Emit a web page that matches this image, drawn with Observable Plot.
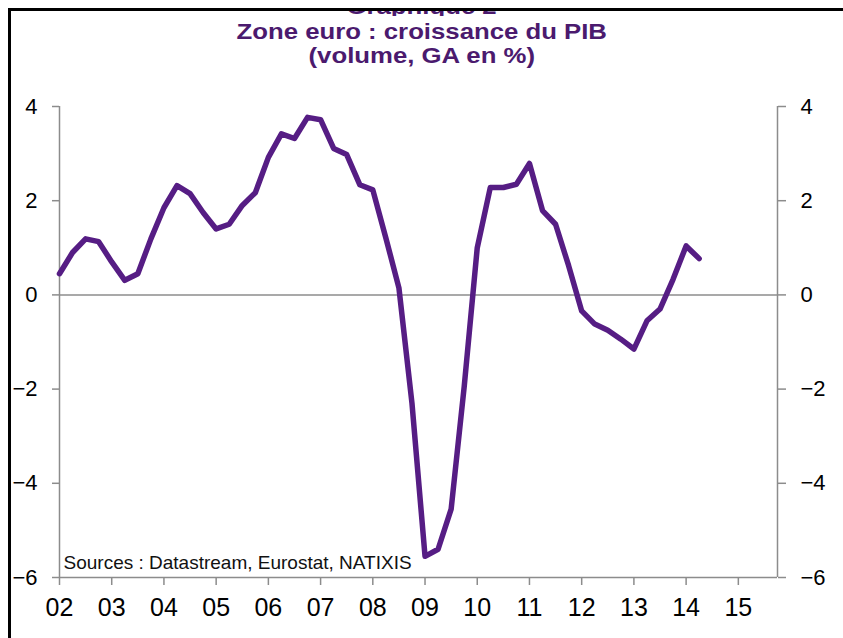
<!DOCTYPE html>
<html>
<head>
<meta charset="utf-8">
<script src="https://cdn.jsdelivr.net/npm/d3@7"></script>
<script src="https://cdn.jsdelivr.net/npm/@observablehq/plot@0.6"></script>
<style>
  html, body { margin: 0; padding: 0; background: #fff; }
  #wrap { position: relative; width: 843px; height: 638px; overflow: hidden; font-family: "Liberation Sans", Arial, sans-serif; }
  #frameTop { position: absolute; left: 8px; top: 8px; width: 835px; height: 3px; background: #000; z-index: 5; }
  #frameLeft { position: absolute; left: 8px; top: 8px; width: 3px; height: 630px; background: #000; z-index: 5; }
  #supclip { position: absolute; left: 0; top: 11px; width: 843px; height: 5px; overflow: hidden; z-index: 2; }
  #sup { position: absolute; left: 0; top: -14.6px; width: 843px; text-align: center; font-weight: bold; font-size: 22px; line-height: 22px; color: #4b1a6e; transform: scaleX(1.17); transform-origin: 421px 0; }
  .title { position: absolute; left: 0; width: 843px; height: 22px; text-align: center; font-weight: bold; font-size: 22px; line-height: 22px; color: #4b1a6e; transform: scaleX(1.17); transform-origin: 420px 0; z-index: 2; white-space: nowrap; }
  #t1 { top: 21px; }
  #t2 { top: 45px; }
  #chart { position: absolute; left: 0; top: 0; z-index: 1; }
</style>
</head>
<body>
<div id="wrap">
  <div id="chart"></div>
  <div id="supclip"><div id="sup">Graphique 2</div></div>
  <div class="title" id="t1">Zone euro : croissance du PIB</div>
  <div class="title" id="t2">(volume, GA en %)</div>
  <div id="frameTop"></div>
  <div id="frameLeft"></div>
</div>
<script>
const quarters = [
  "2002T1","2002T2","2002T3","2002T4",
  "2003T1","2003T2","2003T3","2003T4",
  "2004T1","2004T2","2004T3","2004T4",
  "2005T1","2005T2","2005T3","2005T4",
  "2006T1","2006T2","2006T3","2006T4",
  "2007T1","2007T2","2007T3","2007T4",
  "2008T1","2008T2","2008T3","2008T4",
  "2009T1","2009T2","2009T3","2009T4",
  "2010T1","2010T2","2010T3","2010T4",
  "2011T1","2011T2","2011T3","2011T4",
  "2012T1","2012T2","2012T3","2012T4",
  "2013T1","2013T2","2013T3","2013T4",
  "2014T1","2014T2"
];
const growth = [
  0.45, 0.90, 1.19, 1.13,
  0.70, 0.31, 0.45, 1.19,
  1.85, 2.32, 2.15, 1.75,
  1.40, 1.50, 1.90, 2.17,
  2.92, 3.42, 3.32, 3.77,
  3.72, 3.11, 2.98, 2.34,
  2.23, 1.21, 0.15, -2.30,
  -5.55, -5.40, -4.55, -1.95,
  1.00, 2.28, 2.28, 2.35,
  2.79, 1.79, 1.50, 0.62,
  -0.34, -0.62, -0.75, -0.94,
  -1.15, -0.55, -0.30, 0.33,
  1.04, 0.77
];
const tickYears = [2002, 2003, 2004, 2005, 2006, 2007, 2008, 2009, 2010, 2011, 2012, 2013, 2014, 2015];
const tickLabels = ["02","03","04","05","06","07","08","09","10","11","12","13","14","15"];
const yTicks = [-6, -4, -2, 0, 2, 4];
const xEnd = 2015.75; // last category of the axis (2015T4)
const sourceText = "Sources : Datastream, Eurostat, NATIXIS";

const data = quarters.map((q, i) => ({
  t: +q.slice(0, 4) + (+q.slice(5) - 1) / 4,
  v: growth[i]
}));

const axisGray = "#8c8c8c";
const lineColor = "#561d84";

const chart = Plot.plot({
  width: 843,
  height: 638,
  marginLeft: 59,
  marginRight: 66,
  marginTop: 106,
  marginBottom: 61,
  style: { fontFamily: "'Liberation Sans', Arial, sans-serif", background: "transparent", color: "#000" },
  x: { domain: [2002, xEnd] },
  y: { domain: [-6, 4] },
  marks: [
    Plot.ruleX([2002, xEnd], { stroke: axisGray, strokeWidth: 1.5 }),
    Plot.ruleY([0, -6], { stroke: axisGray, strokeWidth: 1.5 }),
    Plot.axisY({ anchor: "left", ticks: yTicks, tickSize: 7, tickPadding: 15, fontSize: 22, stroke: axisGray, strokeWidth: 1.5, fill: "#000", label: null }),
    Plot.axisY({ anchor: "right", ticks: yTicks, tickSize: 8, tickPadding: 15, fontSize: 22, stroke: axisGray, strokeWidth: 1.5, fill: "#000", label: null }),
    Plot.axisX({ anchor: "bottom", ticks: tickYears, tickFormat: (d) => tickLabels[tickYears.indexOf(d)], tickSize: 8, tickPadding: 13, fontSize: 25, stroke: axisGray, strokeWidth: 1.5, fill: "#000", label: null }),
    Plot.text([sourceText], { frameAnchor: "bottom-left", text: d => d, textAnchor: "start", lineAnchor: "bottom", dx: 4, dy: -9, fontSize: 19, fill: "#111" }),
    Plot.line(data, { x: "t", y: "v", stroke: lineColor, strokeWidth: 5.5, strokeLinejoin: "round", strokeLinecap: "round" })
  ]
});
document.getElementById("chart").appendChild(chart);
</script>
</body>
</html>
